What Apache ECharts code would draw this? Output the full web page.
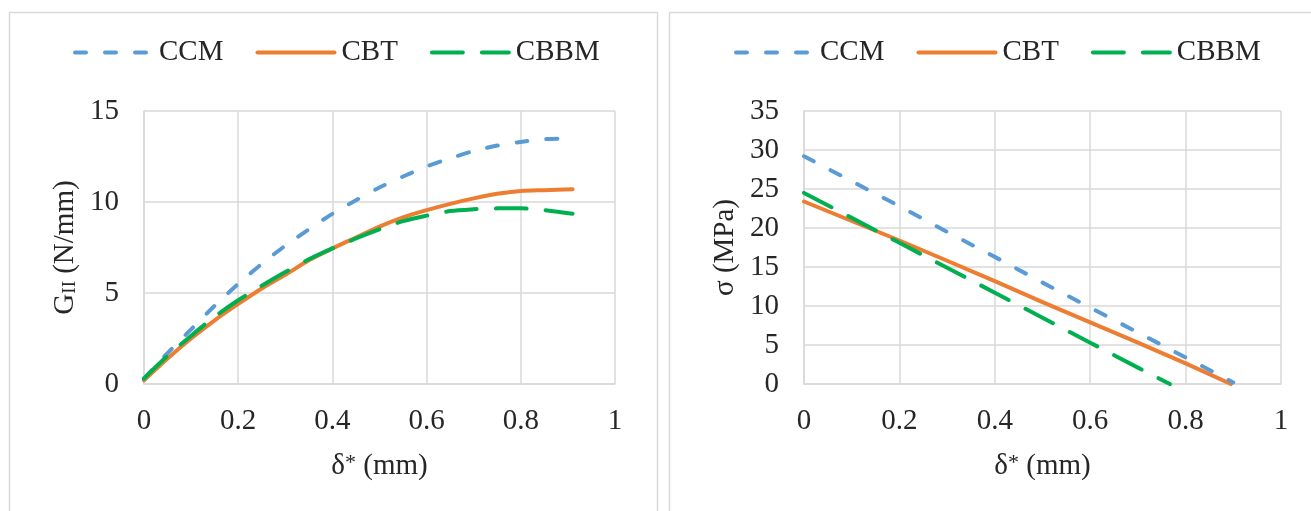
<!DOCTYPE html>
<html>
<head>
<meta charset="utf-8">
<script src="https://cdn.jsdelivr.net/npm/echarts@6/dist/echarts.min.js"></script>
<style>
  html, body { margin: 0; padding: 0; background: #ffffff; }
  #chart { width: 1311px; height: 511px; }
</style>
</head>
<body>
<div id="chart"></div>
<script>
// ---- Data ----
const seriesNames = ['CCM', 'CBT', 'CBBM'];
const xTickValues = [0, 0.2, 0.4, 0.6, 0.8, 1];

// Left panel: G_II (N/mm) vs delta* (mm)
const gCCM  = [[0,0.3],[0.05,1.7],[0.1,3.0],[0.15,4.3],[0.2,5.5],[0.25,6.6],[0.3,7.6],[0.35,8.5],[0.4,9.35],[0.45,10.1],[0.5,10.8],[0.55,11.4],[0.6,11.95],[0.65,12.4],[0.7,12.8],[0.75,13.1],[0.8,13.3],[0.85,13.45],[0.91,13.5]];
const gCBT  = [[0,0.2],[0.05,1.4],[0.1,2.5],[0.15,3.5],[0.2,4.4],[0.25,5.25],[0.3,6.0],[0.35,6.8],[0.4,7.45],[0.45,8.05],[0.5,8.65],[0.55,9.15],[0.6,9.55],[0.65,9.9],[0.7,10.2],[0.75,10.45],[0.8,10.6],[0.85,10.65],[0.91,10.7]];
const gCBBM = [[0,0.3],[0.05,1.55],[0.1,2.65],[0.15,3.7],[0.2,4.6],[0.25,5.4],[0.3,6.15],[0.35,6.85],[0.4,7.45],[0.45,8.0],[0.5,8.5],[0.55,8.95],[0.6,9.25],[0.65,9.5],[0.7,9.6],[0.75,9.65],[0.8,9.65],[0.85,9.55],[0.91,9.35]];

// Right panel: sigma (MPa) vs delta* (mm)
const sCCM  = [[0,29.2],[0.1,26.0],[0.2,22.8],[0.3,19.5],[0.4,16.3],[0.5,13.0],[0.6,9.8],[0.7,6.6],[0.8,3.4],[0.9,0.2]];
const sCBT  = [[0,23.4],[0.1,20.9],[0.2,18.4],[0.3,15.8],[0.4,13.2],[0.5,10.5],[0.6,7.9],[0.7,5.3],[0.8,2.65],[0.895,0]];
const sCBBM = [[0,24.5],[0.1,21.3],[0.2,18.1],[0.3,14.9],[0.4,11.7],[0.5,8.5],[0.6,5.3],[0.7,2.1],[0.767,0]];

// ---- Styling ----
const FONT = 'Liberation Serif';
const TXT = '#262626';
const GRIDC = '#d9d9d9';
const colors = { CCM: '#5B9BD5', CBT: '#ED7D31', CBBM: '#00B050' };
const dashes = { CCM: [11, 19], CBT: 'solid', CBBM: [31, 19] };

function xAxisCfg(gridIndex) {
  return {
    type: 'value', gridIndex: gridIndex, min: 0, max: 1, interval: 0.2,
    name: '{a|δ}{s|*}{a| (mm)}', nameLocation: 'middle', nameGap: 68,
    nameTextStyle: {
      rich: {
        a: { fontFamily: FONT, fontSize: 29, color: TXT },
        s: { fontFamily: FONT, fontSize: 22, color: TXT, verticalAlign: 'top' }
      }
    },
    axisLine: { show: true, lineStyle: { color: GRIDC, width: 1.5 } },
    axisTick: { show: false },
    axisLabel: { fontFamily: FONT, fontSize: 29, color: TXT, margin: 23,
      formatter: function (v) { return xTickValues.indexOf(v) >= 0 ? String(v) : ''; } },
    splitLine: { show: true, lineStyle: { color: GRIDC, width: 1.5 } }
  };
}

function yAxisCfg(gridIndex, max, name, rich) {
  return {
    type: 'value', gridIndex: gridIndex, min: 0, max: max, interval: 5,
    name: name, nameLocation: 'middle', nameGap: 64,
    nameTextStyle: { rich: rich },
    axisLine: { show: true, lineStyle: { color: GRIDC, width: 1.5 } },
    axisTick: { show: false },
    axisLabel: { fontFamily: FONT, fontSize: 29, color: TXT, margin: 25 },
    splitLine: { show: true, lineStyle: { color: GRIDC, width: 1.5 } }
  };
}

function lineSeries(name, data, idx, smooth) {
  return {
    name: name, type: 'line', xAxisIndex: idx, yAxisIndex: idx,
    data: data, showSymbol: false, symbol: 'none', smooth: smooth,
    lineStyle: { color: colors[name], width: 4, type: dashes[name], cap: 'round', join: 'round' },
    itemStyle: { color: colors[name] },
    z: name === 'CCM' ? 3 : (name === 'CBT' ? 2 : 4)
  };
}

function legendCfg(left) {
  return {
    left: left, top: 38, padding: 0,
    data: seriesNames.map(function (n) {
      return {
        name: n,
        itemStyle: { opacity: 0 },
        lineStyle: { color: colors[n], width: 4, type: dashes[n], cap: 'round' }
      };
    }),
    itemWidth: 77, itemHeight: 14, itemGap: 32,
    textStyle: { fontFamily: FONT, fontSize: 29, color: TXT, padding: [0, 0, 0, 2] }
  };
}

const option = {
  animation: false,
  backgroundColor: '#ffffff',
  graphic: [
    { type: 'rect', left: 7, top: 10, shape: { width: 648, height: 600 },
      style: { fill: 'none', stroke: GRIDC, lineWidth: 1.5 }, silent: true },
    { type: 'rect', left: 667, top: 10, shape: { width: 700, height: 600 },
      style: { fill: 'none', stroke: GRIDC, lineWidth: 1.5 }, silent: true }
  ],
  legend: [legendCfg(73), legendCfg(734)],
  grid: [
    { left: 144, top: 111, width: 471, height: 273 },
    { left: 804, top: 111, width: 477, height: 273 }
  ],
  xAxis: [xAxisCfg(0), xAxisCfg(1)],
  yAxis: [
    yAxisCfg(0, 15, '{a|G}{b|II}{a| (N/mm)}', {
      a: { fontFamily: FONT, fontSize: 29, color: TXT },
      b: { fontFamily: FONT, fontSize: 19, color: TXT, verticalAlign: 'bottom' }
    }),
    yAxisCfg(1, 35, '{a|σ (MPa)}', {
      a: { fontFamily: FONT, fontSize: 29, color: TXT }
    })
  ],
  series: [
    lineSeries('CCM', gCCM, 0, 0.3),
    lineSeries('CBT', gCBT, 0, 0.3),
    lineSeries('CBBM', gCBBM, 0, 0.3),
    lineSeries('CCM', sCCM, 1, false),
    lineSeries('CBT', sCBT, 1, false),
    lineSeries('CBBM', sCBBM, 1, false)
  ]
};

const chart = echarts.init(document.getElementById('chart'), null, { renderer: 'canvas' });
chart.setOption(option);
</script>
</body>
</html>
